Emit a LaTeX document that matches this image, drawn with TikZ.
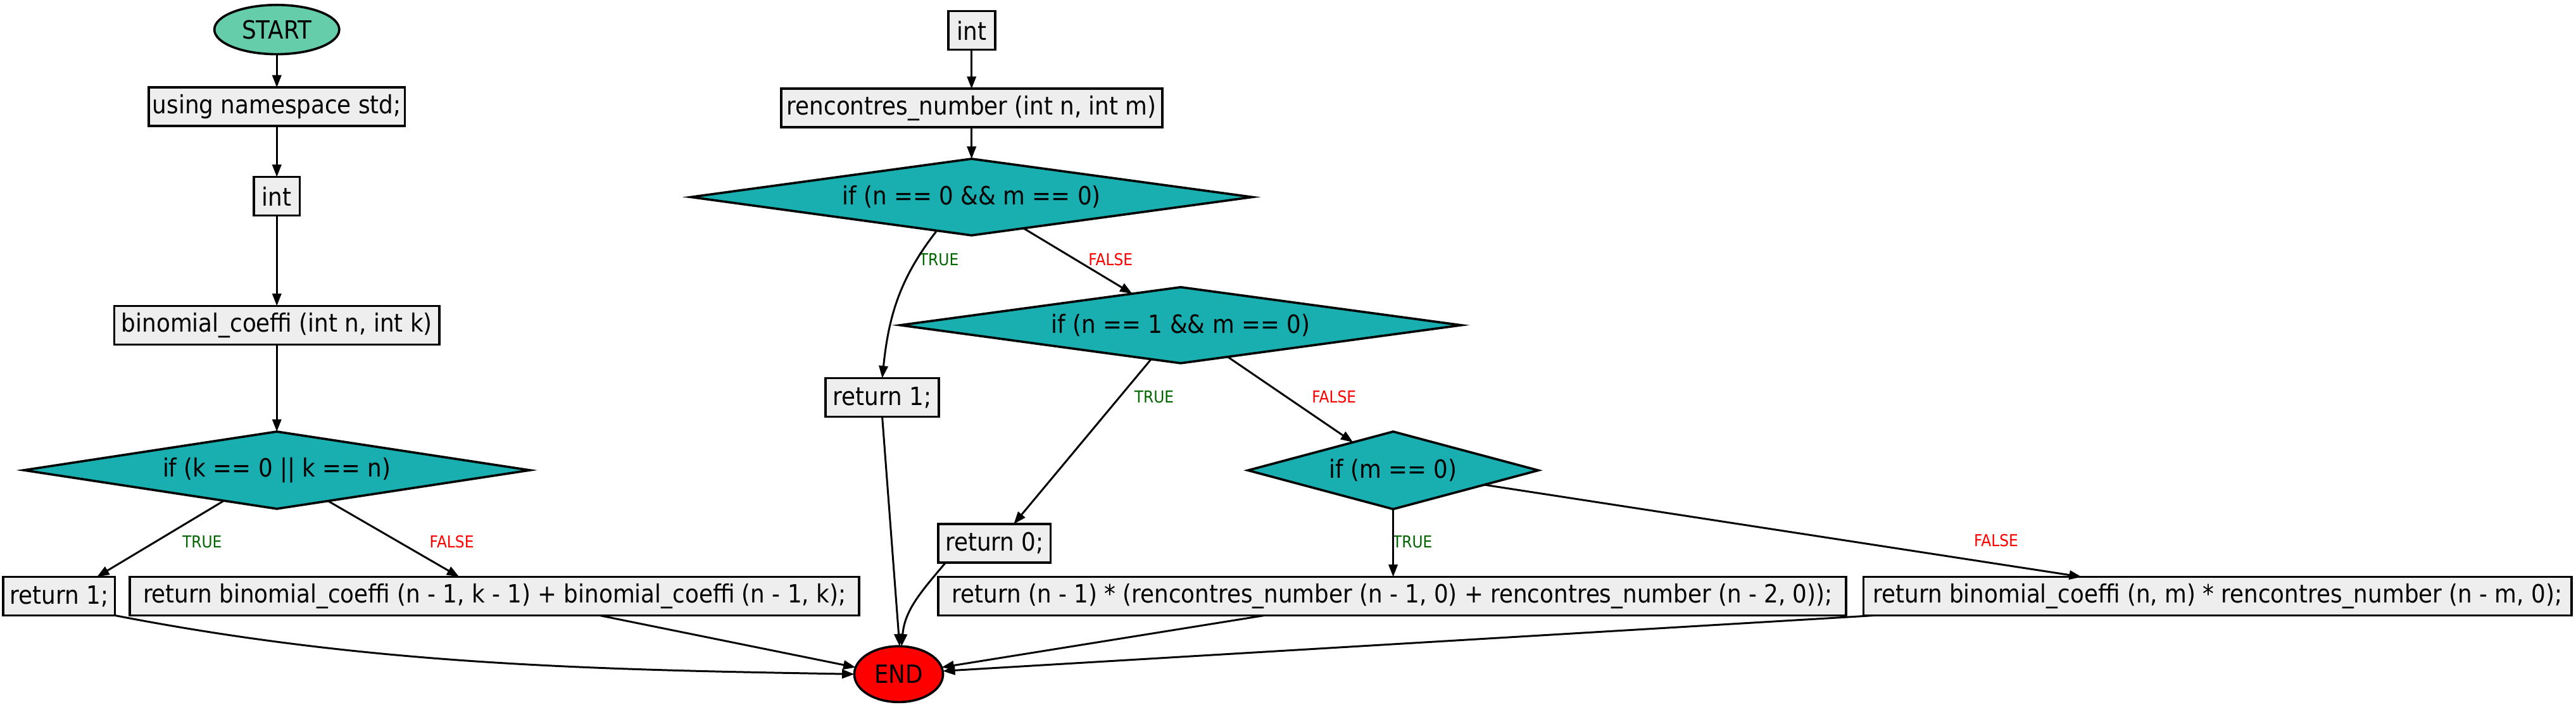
\documentclass[tikz,border=0pt]{standalone}
\usepackage{fontspec}
\setmainfont{DejaVu Sans}[FakeStretch=0.9]
\usetikzlibrary{shapes.geometric,arrows.meta}
\definecolor{startc}{HTML}{66CDAA}
\definecolor{condc}{HTML}{19AFB0}
\definecolor{boxc}{HTML}{EEEEEE}
\definecolor{truec}{HTML}{006400}
\definecolor{falsec}{HTML}{FF0000}
\begin{document}
\begin{tikzpicture}[x=1pt,y=-1pt,
  every node/.style={inner sep=0pt, outer sep=0pt, font=\fontsize{15.3}{17}\selectfont},
  stmt/.style={draw=black, line width=1.4pt, fill=boxc, rectangle, minimum height=23.5pt},
  cond/.style={draw=black, line width=1.4pt, fill=condc, diamond},
  term/.style={draw=black, line width=1.4pt, ellipse},
  flow/.style={line width=1.15pt, -{Triangle[length=7.5pt,width=5.5pt]}},
  tlbl/.style={text=truec, font=\fontsize{10}{12}\selectfont},
  flbl/.style={text=falsec, font=\fontsize{10}{12}\selectfont}]
\useasboundingbox (0,0) rectangle (1568,429);

% left function
\node[term, fill=startc, minimum width=76pt, minimum height=30pt] (start) at (168.5,18) {START};
\node[stmt, minimum width=156pt] (using) at (168.5,65) {using namespace std;};
\node[stmt, minimum width=28pt] (intL) at (168.5,119.5) {int};
\node[stmt, minimum width=198pt] (binom) at (168.5,198) {binomial\_coeffi (int n, int k)};
\node[cond, minimum width=308pt, minimum height=47pt, aspect=6.55] (dk) at (168.5,286.3) {if (k == 0 || k == n)};
\node[stmt, minimum width=68pt] (ret1L) at (36,363) {return 1;};
\node[stmt, minimum width=444pt] (retB) at (301,363) {return binomial\_coeffi (n - 1, k - 1) + binomial\_coeffi (n - 1, k);};
\node[term, fill=red, minimum width=54pt, minimum height=34pt] (end) at (547,410.5) {END};

% right function
\node[stmt, minimum width=28.5pt] (intR) at (591.4,18.5) {int};
\node[stmt, minimum width=232pt] (renc) at (591.4,65.8) {rencontres\_number (int n, int m)};
\node[cond, minimum width=341.6pt, minimum height=46.6pt, aspect=7.33] (d1) at (591.4,120) {if (n == 0 \&\& m == 0)};
\node[cond, minimum width=341.4pt, minimum height=46.3pt, aspect=7.37] (d2) at (718.7,198) {if (n == 1 \&\& m == 0)};
\node[stmt, minimum width=69pt] (ret1R) at (537,242) {return 1;};
\node[stmt, minimum width=68.5pt] (ret0) at (605.3,330.8) {return 0;};
\node[cond, minimum width=176.7pt, minimum height=47.2pt, aspect=3.74] (d3) at (848,286.4) {if (m == 0)};
\node[stmt, minimum width=552.7pt] (retN) at (847.4,363) {return (n - 1) * (rencontres\_number (n - 1, 0) + rencontres\_number (n - 2, 0));};
\node[stmt, minimum width=431pt] (retBM) at (1349.8,363) {return binomial\_coeffi (n, m) * rencontres\_number (n - m, 0);};

% edge labels
\node[tlbl] (lt1) at (123,330) {TRUE};
\node[flbl] (lf1) at (275,330) {FALSE};
\node[tlbl] (lt2) at (571.5,158) {TRUE};
\node[flbl] (lf2) at (676,158) {FALSE};
\node[tlbl] (lt3) at (702.5,241.7) {TRUE};
\node[flbl] (lf3) at (812,241.7) {FALSE};
\node[tlbl] (lt4) at (859.8,330) {TRUE};
\node[flbl] (lf4) at (1215,329) {FALSE};

% edges, left
\draw[flow] (start.south) -- (using.north);
\draw[flow] (using.south) -- (intL.north);
\draw[flow] (intL.south) -- (binom.north);
\draw[flow] (binom.south) -- (dk.north);
\draw[flow] (dk.210.5) -- ([xshift=23pt]ret1L.north);
\draw[flow] (dk.329.5) -- ([xshift=-21.5pt]retB.north);
\draw[flow] (ret1L.south east) to[out=-11, in=179, looseness=0.9] (end.180);
\draw[flow] ([xshift=64pt]retB.south) -- (end.171.6);

% edges, right
\draw[flow] (intR.south) -- (renc.north);
\draw[flow] (renc.south) -- (d1.north);
\draw[flow] (d1.224.2) to[out=-128, in=84] (ret1R.north);
\draw[flow] (d1.-31.6) -- (d2.147.9);
\draw[flow] (ret1R.south) -- (end.88);
\draw[flow] (d2.229.4) -- ([xshift=11.8pt]ret0.north);
\draw[flow] (d2.-34) -- (d3.145.9);
\draw[flow] ([xshift=-29.7pt]ret0.south) to[out=-130, in=85] (end.84);
\draw[flow] (d3.south) -- (d3.south |- retN.north);
\draw[flow] (d3.-9.07) -- ([xshift=-82.8pt]retBM.north);
\draw[flow] ([xshift=-77.8pt]retN.south) -- (end.9.7);
\draw[flow] ([xshift=-208.8pt]retBM.south) -- (end.4);
\end{tikzpicture}
\end{document}
